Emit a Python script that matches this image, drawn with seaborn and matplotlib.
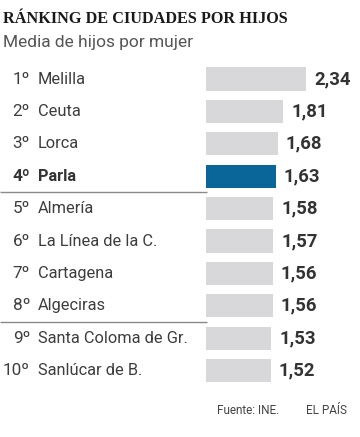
import matplotlib
matplotlib.use("Agg")
import matplotlib.pyplot as plt
import matplotlib.transforms as mtransforms
import seaborn as sns
import pandas as pd

ranks = ["1º", "2º", "3º", "4º", "5º", "6º", "7º", "8º", "9º", "10º"]
cities = ["Melilla", "Ceuta", "Lorca", "Parla", "Almería", "La Línea de la C.",
          "Cartagena", "Algeciras", "Santa Coloma de Gr.", "Sanlúcar de B."]
values = [2.34, 1.81, 1.68, 1.63, 1.58, 1.57, 1.56, 1.56, 1.53, 1.52]
value_labels = ["2,34", "1,81", "1,68", "1,63", "1,58", "1,57", "1,56", "1,56", "1,53", "1,52"]
highlight = "Parla"
title = "RÁNKING DE CIUDADES POR HIJOS"
subtitle = "Media de hijos por mujer"
source = "Fuente: INE."
brand = "EL PAÍS"

sns.set_theme(style="white")
plt.rcParams['font.family'] = ['Roboto', 'DejaVu Sans']

W, H = 360, 437
fig = plt.figure(figsize=(W / 100, H / 100), dpi=100)
ax = fig.add_axes([0, 0, 1, 1])

df = pd.DataFrame({"city": cities, "value": values})
gray = "#d8d8da"
blue = "#0a6699"
palette = {c: (blue if c == highlight else gray) for c in cities}
sns.barplot(data=df, y="city", x="value", hue="city", palette=palette,
            order=cities, hue_order=cities, orient="h", width=0.71,
            legend=False, ax=ax, saturation=1, edgecolor="none")

# pixel mapping: x=0 at px 206, 42.7 px per unit; row0 center at py 79, pitch 32.4
x0, sx = 206, 42.7
y0, sy = 79, 32.4
ax.set_xlim(-x0 / sx, (W - x0) / sx)
ax.set_ylim((H - y0) / sy, -y0 / sy)
ax.axis("off")

trans = mtransforms.blended_transform_factory(fig.transFigure, ax.transData)

txt_color = "#3d3d3d"
for i, (r, c, v, vl) in enumerate(zip(ranks, cities, values, value_labels)):
    bold = c == highlight
    fw = "bold" if bold else "normal"
    col = "#333333" if bold else txt_color
    ax.text(30 / W, i, r, transform=trans, ha="right", va="center",
            fontsize=12.3, fontweight=fw, color=col)
    ax.text(38 / W, i, c, transform=trans, ha="left", va="center",
            fontsize=11.8, fontweight=fw, color=col)
    ax.text(v + 8 / sx, i, vl, ha="left", va="center", fontsize=13.3,
            fontweight="bold", color="#333333")

# separators below rows 4 and 8
for i in [3.5, 7.5]:
    ax.plot([-x0 / sx, 1 / sx], [i, i], color="#8a8a8a", lw=1.0, solid_capstyle="butt")

fig.text(3 / W, 1 - 19 / H, title, ha="left", va="center", fontsize=11.7,
         fontweight="bold", family=["Liberation Serif", "DejaVu Serif"], color="#1a1a1a")
fig.text(3 / W, 1 - 43 / H, subtitle, ha="left", va="center", fontsize=12.5,
         fontweight="normal", color="#555555")
fig.text(279 / W, 1 - 410 / H, source, ha="right", va="center", fontsize=8.5,
         color="#444444")
fig.text(347 / W, 1 - 410 / H, brand, ha="right", va="center", fontsize=8.5,
         color="#444444")

fig.savefig("out.png", dpi=100)
